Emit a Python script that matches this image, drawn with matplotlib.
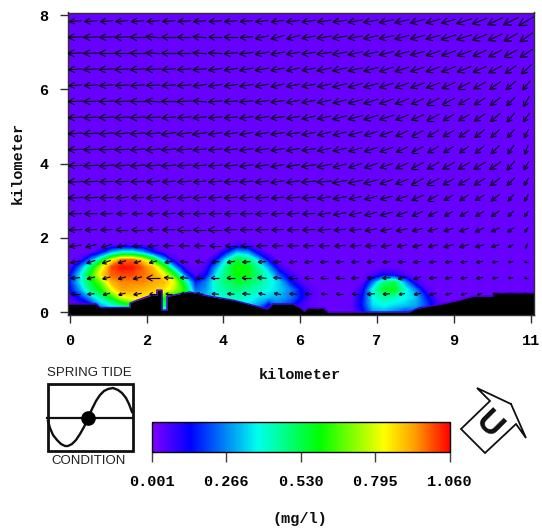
import numpy as np
import matplotlib
matplotlib.use('Agg')
import matplotlib.pyplot as plt
from matplotlib.collections import LineCollection
from matplotlib.colors import LinearSegmentedColormap
from matplotlib.cm import ScalarMappable
from matplotlib.colors import Normalize

W, H = 542, 530
MONO = 'Liberation Mono'

# concentration, hundredths of mg/l, rows bottom to top
conc_x = [0, .25, .5, .75, 1, 1.25, 1.5, 1.75, 2, 2.25, 2.5, 2.75, 3, 3.25, 3.5, 3.75, 4, 4.25, 4.5,
          4.75, 5, 5.25, 5.5, 5.75, 6, 6.25, 6.5, 6.75, 7, 7.25, 7.5, 7.75, 8, 8.25, 8.5, 8.75, 9, 11.2]
conc_y = [-.1, .2, .4, .6, .8, 1.0, 1.2, 1.4, 1.6, 1.8, 2.0, 8.2]
c_00 = [3,3,4,10,15,12,10,15,20,12,10,15,20,20,20,18,20,22,15,6,12,10,6,4,3,3,3,3,12,25,25,20,10,18,12,5,3,3]
c_02 = [3,5,12,30,40,50,60,65,65,50,50,45,35,30,35,38,40,35,28,12,24,18,8,4,3,3,3,4,16,35,38,35,33,30,20,8,3,3]
c_04 = [6,15,30,45,60,80,85,85,85,60,55,60,30,30,38,42,42,40,35,32,30,25,15,5,3,3,3,3,15,38,45,42,38,32,16,4,3,3]
c_06 = [12,28,48,60,80,93,92,90,88,85,75,60,22,28,40,45,48,45,42,38,33,26,14,5,3,3,3,3,10,40,56,58,40,25,6,3,3,3]
c_08 = [15,35,55,68,90,95,95,95,92,90,80,48,15,25,42,50,55,52,46,40,33,16,6,3,3,3,3,3,4,25,48,52,28,8,3,3,3,3]
c_10 = [12,35,60,85,98,100,100,97,93,82,60,22,5,12,36,50,60,58,48,38,20,8,3,3,3,3,3,3,3,6,12,10,5,3,3,3,3,3]
c_12 = [4,25,50,78,100,105,104,98,88,65,30,6,3,6,28,48,62,58,45,28,8] + [3]*17
c_14 = [3,6,25,50,80,98,98,85,60,30,6,3,3,3,14,38,55,50,33,12,3] + [3]*17
c_16 = [3,3,4,12,30,40,40,30,14,5,3,3,3,3,3,15,32,28,10,3,3] + [3]*17
c_18 = [3]*5 + [4,4] + [3]*8 + [3,6,5] + [3]*20
c_20 = [3]*38
c_80 = [3]*38

# sea bed outline, km
bed_x = [-.1, .63, .73, 1.07, 1.44, 1.44, 1.44, 1.44, 1.61, 1.61, 1.94, 2.08, 2.08, 2.2, 2.2, 2.32, 2.32, 2.87,
         3.27, 3.9, 4.25, 4.25, 4.72, 4.72, 4.85, 4.95, 5.33, 5.33, 5.52, 5.6, 5.68, 6.1, 6.1, 6.15, 6.15,
         7.55, 7.87, 8.1, 8.3, 8.3, 8.9, 9.3, 9.65, 10.1, 10.12, 11.2]
bed_y = [.22, .22, .12, .12, .12, .12, .24, .24, .32, .32, .45, .45, .59, .59, .05, .05, .42, .54,
         .44, .32, .22, .22, .08, .08, .22, .22, .22, .22, .11, .02, .11, .11, .05, .05, .0,
         .0, .0, .0, .1, .1, .22, .32, .43, .43, .52, .52]

# arrow length in pixels, rows top to bottom
len_00 = [12,13,13,13,13,13,13,13,13,13,13,13,13,13,14,14,14,14,15,15,15,15,15,15,15,16,16,17,17,18]
len_01 = [15,15,14,15,15,15,14,14,14,13,14,13,14,14,14,14,15,15,15,15,15,15,15,15,16,16,16,16,16,16]
len_02 = [16,15,15,15,15,15,14,14,14,14,14,14,14,14,14,14,15,15,15,15,15,15,15,15,15,15,15,15,15,15]
len_03 = [14,15,15,15,15,15,14,14,14,14,14,14,14,14,14,14,15,15,15,15,15,15,15,15,15,15,15,15,14,14]
len_04 = [13,14,14,14,14,14,14,14,14,14,14,14,14,14,14,14,14,15,15,15,15,15,15,15,15,14,14,14,13,12]
len_05 = [15,15,15,15,15,15,15,15,14,14,14,14,14,14,14,14,14,14,15,15,15,15,14,14,14,13,13,13,12,12]
len_06 = [15,15,15,15,15,15,14,14,14,14,14,14,14,14,14,14,14,15,15,15,15,14,14,14,13,13,13,13,12,11]
len_07 = [15,15,15,15,15,15,15,15,15,14,14,14,14,14,14,14,14,14,14,14,14,14,13,13,13,13,13,12,11,10]
len_08 = [15,15,15,15,15,15,15,15,14,14,14,14,14,14,14,14,14,14,14,14,14,13,13,13,12,12,12,12,11,10]
len_09 = [14,15,15,15,15,15,15,14,14,14,14,14,14,14,14,15,15,14,14,14,14,14,14,14,14,14,14,14,12,10]
len_10 = [15,15,14,14,14,14,13,14,13,14,14,14,14,14,14,15,15,15,15,15,14,14,14,14,13,13,13,13,11,9]
len_11 = [15,14,14,13,13,14,14,14,14,14,14,14,14,13,14,14,14,14,13,13,13,13,13,12,11,11,11,11,9,8]
len_12 = [13,13,12,11,11,12,13,13,13,13,13,13,13,13,13,13,13,13,13,13,13,12,12,11,10,10,10,10,8,7]
len_13 = [13,12,12,12,12,12,13,14,13,14,13,13,13,12,12,13,13,12,12,12,12,12,11,11,10,10,10,9,8,6]
len_14 = [12,11,11,10,10,11,11,11,11,11,11,11,11,11,11,11,11,11,11,11,11,10,10,10,10,10,9,8,6,5]
len_15 = [10,9,9,8,7,8,8,8,9,8,8,8,8,8,8,8,8,8,8,8,8,8,8,7,7,7,7,6,5,4]
len_16 = [9,8,8,8,9,13,9,8,8,8,8,9,9,8,8,8,7,8,8,8,8,8,8,8,7,7,7,6,5,4]
len_17 = [9,7,7,7,8,7,6,7,7,7,7,8,7,7,7,7,6,7,7,8,7,6,7,7,6,6,5,5,5,4]

# arrow heading in degrees below due west, rows top to bottom
ang_00 = [5,5,5,5,5,5,5,5,5,5,5,5,7,7,7,8,8,8,10,10,12,12,14,15,15,18,22,25,27,30]
ang_01 = [2,2,2,2,0,-5,0,0,-5,0,0,5,12,15,15,10,10,10,10,12,12,15,15,15,18,18,22,25,30,35]
ang_02 = [2,2,0,0,0,-3,0,0,-5,-3,5,8,10,10,10,8,8,10,12,12,14,15,15,18,20,20,25,27,28,32]
ang_03 = [4,4,4,4,4,3,5,5,5,8,8,10,10,10,12,10,12,12,12,15,18,18,18,20,22,22,25,27,35,42]
ang_04 = [4,4,4,4,4,2,5,5,8,8,8,8,10,12,10,10,12,14,15,15,18,20,20,22,25,28,30,35,40,50]
ang_05 = [2,2,2,2,0,-5,0,2,-5,5,3,5,8,8,10,10,12,14,15,18,20,22,25,28,28,30,33,38,45,60]
ang_06 = [3,3,3,3,3,3,5,5,5,5,5,8,8,8,10,12,12,14,15,18,18,22,25,28,30,30,35,40,50,55]
ang_07 = [3,3,5,5,5,5,8,8,8,8,8,10,10,8,8,10,14,14,15,18,20,25,28,30,30,35,38,42,50,65]
ang_08 = [2,2,2,2,5,5,5,5,5,5,5,8,8,8,10,8,12,12,15,18,20,25,28,30,32,35,40,45,55,70]
ang_09 = [2,3,5,5,5,5,5,5,5,5,5,8,8,10,10,8,12,15,18,20,20,25,28,30,30,30,32,35,50,60]
ang_10 = [2,3,2,3,3,5,5,5,5,5,5,5,5,8,8,5,5,10,12,15,20,22,28,28,30,30,32,38,45,60]
ang_11 = [3,3,3,5,3,5,5,5,5,5,5,5,5,5,5,5,8,10,12,15,15,20,25,28,30,35,30,38,50,60]
ang_12 = [2,2,3,3,3,5,5,3,3,3,3,3,5,5,5,3,8,10,12,15,15,20,25,25,30,30,30,35,45,55]
ang_13 = [3,3,3,0,0,2,2,0,0,0,2,2,3,3,3,3,5,5,5,10,10,12,15,15,18,20,25,25,35,55]
ang_14 = [8,15,18,10,5,5,2,2,2,0,0,0,2,2,2,3,3,5,5,5,8,10,12,12,15,15,15,15,25,70]
ang_15 = [10,20,20,20,15,15,10,-8,-10,5,10,5,5,5,10,8,5,5,5,5,5,5,8,8,8,8,10,10,10,0]
ang_16 = [5,15,15,15,15,0,-5,-5,0,0,0,0,-5,-5,0,0,0,0,5,5,5,15,20,5,10,10,10,10,5,0]
ang_17 = [0,5,15,15,10,0,0,-5,-5,-5,-5,-5,-10,-10,-5,-5,-5,0,0,5,5,10,10,15,15,15,15,10,5,0]

# colour scale stops
stop_pos = [0, .13, .355, .565, .78, .88, 1]
stop_col = ['#8400ff', '#0000ff', '#00ffee', '#00ff00', '#ffff00', '#ffa000', '#ff0000']
cbar_ticks = [.001, .266, .530, .795, 1.060]
cbar_labels = ['0.001', '0.266', '0.530', '0.795', '1.060']
x_tick_labels = ['0', '2', '4', '6', '7', '9', '11']
y_ticks = [0, 2, 4, 6, 8]

# tide inset curve, figure pixels
tide_x = [48, 50, 53, 57, 61, 65, 68, 72, 76, 80, 84, 88, 92, 96, 100, 104, 108, 113, 118, 122, 126, 129, 132]
tide_y = [421, 428, 435, 440, 444, 446, 446, 444, 440, 434, 427, 418, 409, 401, 395, 391, 389, 388, 390, 393, 398, 404, 412]

# north arrow outline, figure pixels
north_x = [511, 477, 490, 461, 485, 516, 526, 511]
north_y = [404, 388, 401, 429, 453, 424, 438, 404]

PX_X = 41.9
PX_Y = 37.1


def px_axes(l, t, r, b):
    return [l / W, 1 - b / H, (r - l) / W, (b - t) / H]


cmap = LinearSegmentedColormap.from_list('plume', list(zip(stop_pos, stop_col)), N=512)
norm = Normalize(0, 1.06)

fig = plt.figure(figsize=(W / 100, H / 100), dpi=100, facecolor='white')
ax = fig.add_axes(px_axes(68, 12.5, 534, 315))
ax.set_xlim(-1.7 / PX_X, 264.3 / PX_X + 264.3 / PX_X - 1.7 / PX_X + (534 - 68 - 528.6 + 1.7 + 1.7) / PX_X)
ax.set_xlim(-1.7 / PX_X, (534 - 69.7) / PX_X)
ax.set_ylim((312 - 315) / PX_Y, (312 - 12.5) / PX_Y)

conc = np.array([c_00, c_02, c_04, c_06, c_08, c_10, c_12, c_14, c_16, c_18, c_20, c_80]) / 100
ax.contourf(conc_x, conc_y, conc, levels=np.linspace(0, 1.07, 120), cmap=cmap, norm=norm, extend='both', antialiased=False)

ax.fill_between(bed_x, -1, bed_y, color='black', lw=0, zorder=2)
ax.plot(bed_x, bed_y, color='#4a00d0', lw=1.0, zorder=2)

lengths = np.array([len_00, len_01, len_02, len_03, len_04, len_05, len_06, len_07, len_08,
                    len_09, len_10, len_11, len_12, len_13, len_14, len_15, len_16, len_17], float)
angles = np.radians([ang_00, ang_01, ang_02, ang_03, ang_04, ang_05, ang_06, ang_07, ang_08,
                     ang_09, ang_10, ang_11, ang_12, ang_13, ang_14, ang_15, ang_16, ang_17])
col_x = 5.8 / PX_X + np.arange(30) * 15.55 / PX_X
row_y = np.linspace(7.84, .485, 18)
cx, cy = np.meshgrid(col_x, row_y)

segs = []
for xc, yc, n, a in zip(cx.ravel(), cy.ravel(), lengths.ravel(), angles.ravel()):
    # pixel offsets first, y up, then back to km
    dx, dy = -np.cos(a), -np.sin(a)
    tail = (xc - dx * n / 2 / PX_X, yc - dy * n / 2 / PX_Y)
    tip = (xc + dx * n / 2 / PX_X, yc + dy * n / 2 / PX_Y)
    segs.append([tail, tip])
    for s in (-1, 1):
        b = a + s * np.radians(28)
        bl = n * .5
        barb = (tip[0] + np.cos(b) * bl / PX_X, tip[1] + np.sin(b) * bl / PX_Y)
        segs.append([tip, barb])
ax.add_collection(LineCollection(segs, colors='#100020', linewidths=.85, zorder=3))

ax.set_xticks(np.arange(7) * 11 / 6)
ax.set_xticklabels(x_tick_labels)
ax.set_yticks(y_ticks)
ax.tick_params(length=6, width=1, color='#303030', pad=8, labelsize=11)
for lab in ax.get_xticklabels() + ax.get_yticklabels():
    lab.set_family(MONO)
    lab.set_weight('bold')
for sp in ax.spines.values():
    sp.set_color('#303030')
    sp.set_linewidth(1)

# colour bar
cax = fig.add_axes(px_axes(151.5, 421.5, 450, 451.5))
cb = fig.colorbar(ScalarMappable(norm=Normalize(0, 1.06), cmap=cmap), cax=cax, orientation='horizontal')
cb.set_ticks(cbar_ticks)
cb.set_ticklabels(cbar_labels)
cb.ax.tick_params(length=7, width=1, color='#404040', pad=10, labelsize=11)
for lab in cb.ax.get_xticklabels():
    lab.set_family(MONO)
    lab.set_weight('bold')
cb.outline.set_linewidth(1)

# overlay in figure pixels for labels and the two little glyphs
ov = fig.add_axes([0, 0, 1, 1], facecolor='none')
ov.set_xlim(0, W)
ov.set_ylim(H, 0)
ov.axis('off')

bold = dict(family=MONO, weight='bold', fontsize=11, ha='center', va='center', color='#101010')
ov.text(300, 375, 'kilometer', **bold)
ov.text(18, 163, 'kilometer', rotation=90, **bold)
ov.text(300, 519, '(mg/l)', **bold)

thin = dict(family='Liberation Sans', fontsize=9.5, ha='center', va='center', color='#202020')
ov.text(89.5, 373, 'SPRING TIDE', **thin)
ov.text(88.5, 461, 'CONDITION', **thin)
ov.add_patch(plt.Rectangle((47.5, 384), 85, 67, fill=False, ec='#101010', lw=2))
ov.plot([47, 132], [418, 418], color='#101010', lw=1.6)
ov.plot(tide_x, tide_y, color='#101010', lw=1.7)
ov.plot([88], [418], 'o', color='black', ms=9.5)

ov.plot(north_x, north_y, color='#101010', lw=1.3, solid_joinstyle='miter')
ov.text(489, 426, 'U', family='Liberation Sans', weight='bold', fontsize=24, rotation=-45,
        rotation_mode='anchor', ha='center', va='center', color='#101010')

fig.savefig('out.png', dpi=100)
plt.close(fig)
